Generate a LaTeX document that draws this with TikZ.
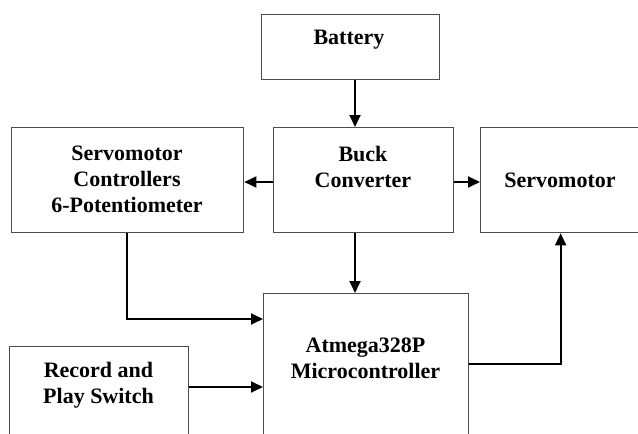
\documentclass[tikz,border=0pt]{standalone}
\usepackage{fontspec}
\setmainfont{Liberation Serif}
\usetikzlibrary{arrows.meta}
\begin{document}
\begin{tikzpicture}[x=1pt,y=-1pt,
  blk/.style={draw=black!70, line width=1.3pt, fill=white, inner sep=0pt, anchor=north west},
  lbl/.style={font=\fontsize{22}{26}\selectfont\bfseries, align=center, inner sep=0pt},
  conn/.style={line width=1.8pt, -{Triangle[length=12pt,width=11pt]}}]
\useasboundingbox (0,0) rectangle (638,434);
\clip (0,0) rectangle (638,434);
% boxes
\node[blk, minimum width=178pt, minimum height=65pt]  (bat)   at (261,14)  {};
\node[blk, minimum width=180pt, minimum height=105pt] (buck)  at (273,127) {};
\node[blk, minimum width=232pt, minimum height=105pt] (sc)    at (11,127)  {};
\node[blk, minimum width=160pt, minimum height=105pt] (servo) at (480,127) {};
\node[blk, minimum width=205pt, minimum height=160pt] (mcu)   at (263,293) {};
\node[blk, minimum width=179pt, minimum height=110pt] (rec)   at (9,346)   {};
% labels
\node[lbl] (tbat)   at (349,40)    {Battery};
\node[lbl] (tbuck)  at (363,166.5) {Buck\\Converter};
\node[lbl] (tsc)    at (127,179)   {Servomotor\\Controllers\\6-Potentiometer};
\node[lbl] (tservo) at (560,180)   {Servomotor};
\node[lbl] (tmcu)   at (365.5,358) {Atmega328P\\Microcontroller};
\node[lbl] (trec)   at (98.5,385)  {Record and\\Play Switch};
% helper coordinates
\coordinate (vx) at (355,0);
\coordinate (hy) at (0,182);
\coordinate (r1) at ([yshift=-41pt]rec.north east);
\coordinate (m1) at ([yshift=-71pt]mcu.north east);
% connectors
\draw[conn] (vx |- bat.south) -- (vx |- buck.north);
\draw[conn] (hy -| buck.west) -- (hy -| sc.east);
\draw[conn] (hy -| buck.east) -- (hy -| servo.west);
\draw[conn] (vx |- buck.south) -- (vx |- mcu.north);
\draw[conn] ([xshift=-1pt]sc.south) |- ([yshift=-26pt]mcu.north west);
\draw[conn] (r1) -- (r1 -| mcu.west);
\draw[conn] (m1) -| (servo.south);
\end{tikzpicture}
\end{document}
